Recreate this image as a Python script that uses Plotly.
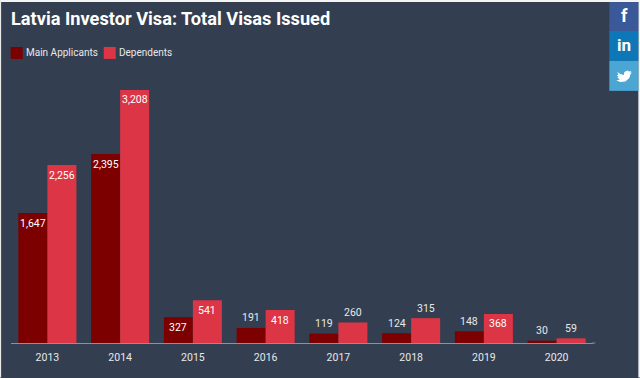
import plotly.graph_objects as go

years = ["2013", "2014", "2015", "2016", "2017", "2018", "2019", "2020"]
main_applicants = [1647, 2395, 327, 191, 119, 124, 148, 30]
dependents = [2256, 3208, 541, 418, 260, 315, 368, 59]
main_inside = [True, True, True, False, False, False, False, False]
dep_inside = [True, True, True, True, False, False, True, False]
title = "Latvia Investor Visa: Total Visas Issued"

BG = "#333f50"
DARK = "#7c0000"
RED = "#dc3545"
W, H = 640, 378
L, R, T, B = 11.37, 47.3, 20, 34.5
Y_MAX = 4095


def px(x):
    return (x - L) / (W - L - R)


def py(y):
    return 1 - (y - T) / (H - T - B)


fig = go.Figure()
fig.add_bar(x=years, y=main_applicants, name="Main Applicants", marker_color=DARK, marker_line_width=0, showlegend=False)
fig.add_bar(x=years, y=dependents, name="Dependents", marker_color=RED, marker_line_width=0, showlegend=False)

annotations = []
for vals, inside, shift in ((main_applicants, main_inside, -14.5), (dependents, dep_inside, 14.5)):
    for i, (v, ins) in enumerate(zip(vals, inside)):
        annotations.append(dict(
            x=i, y=v, xref="x", yref="y", text=f"{v:,}", showarrow=False,
            xshift=shift, yshift=-10 if ins else 10,
            font=dict(family="Roboto", size=10.5, color="#ffffff" if ins else "#e8e8e8"),
        ))


def paper_text(x, y, text, size, color, anchor="left", family="Roboto"):
    annotations.append(dict(
        x=px(x), y=py(y), xref="paper", yref="paper", text=text, showarrow=False,
        xanchor=anchor, yanchor="middle", borderpad=0, borderwidth=0,
        font=dict(family=family, size=size, color=color),
    ))


paper_text(11, 18, "<b>" + title + "</b>", 18.2, "#ffffff")
paper_text(26, 53, "Main Applicants", 10, "#e8e8e8")
paper_text(119, 53, "Dependents", 10, "#e8e8e8")
paper_text(624, 15, "<b>f</b>", 18, "#ffffff", "center")
paper_text(624, 45, "<b>in</b>", 17, "#ffffff", "center")


def box(x0, y0, x1, y1, color):
    return dict(type="rect", xref="paper", yref="paper", x0=px(x0), x1=px(x1),
                y0=py(y1), y1=py(y0), fillcolor=color, line_width=0, layer="above")


shapes = [
    box(0, 0, 640, 2, "#f4f4f4"),
    box(0, 0, 1.5, 378, "#e8e8e8"),
    box(638, 0, 640, 378, "#f4f4f4"),
    box(11, 47, 23, 59, DARK),
    box(104, 47, 116, 59, RED),
    box(609, 2, 638, 31, "#3b5998"),
    box(609, 31, 638, 61, "#0d77b7"),
    box(609, 61, 638, 91, "#4ba6d3"),
    box(592, 343, 595, 344, "#8a929c"),
]

# twitter bird glyph as a small vector path in paper coordinates
bird = [(617, 72), (620, 74), (623.5, 75), (624, 72), (627, 70.5), (629, 71.5), (631, 71), (630, 72.8),
        (631.5, 72.5), (630, 74.5), (629, 78), (625, 81.5), (620, 82), (616, 80.5), (619.5, 79.7),
        (617, 77.5), (618.3, 77), (616.5, 75), (618, 75)]
path = "M" + "L".join(f"{px(a):.5f},{py(b):.5f}" for a, b in bird) + "Z"
shapes.append(dict(type="path", xref="paper", yref="paper", path=path, fillcolor="#ffffff", line_width=0, layer="above"))

fig.update_layout(
    width=W, height=H, autosize=False,
    margin=dict(l=L, r=R, t=T, b=B, pad=0),
    paper_bgcolor=BG, plot_bgcolor=BG,
    barmode="group", bargap=0.202, bargroupgap=0,
    font=dict(family="Roboto", size=11, color="#e8e8e8"),
    annotations=annotations, shapes=shapes,
    xaxis=dict(type="category", range=[-0.5, 7.5], showgrid=False, zeroline=False, showline=True,
               linecolor="#8a929c", linewidth=1, ticks="",
               tickfont=dict(family="Roboto", size=10.5, color="#e8e8e8"), ticklabelstandoff=4),
    yaxis=dict(range=[0, Y_MAX], visible=False, fixedrange=True),
)
fig.write_html("out.html", config=dict(displayModeBar=False),
               post_script="document.body.style.margin='0';document.body.style.overflow='hidden';")
